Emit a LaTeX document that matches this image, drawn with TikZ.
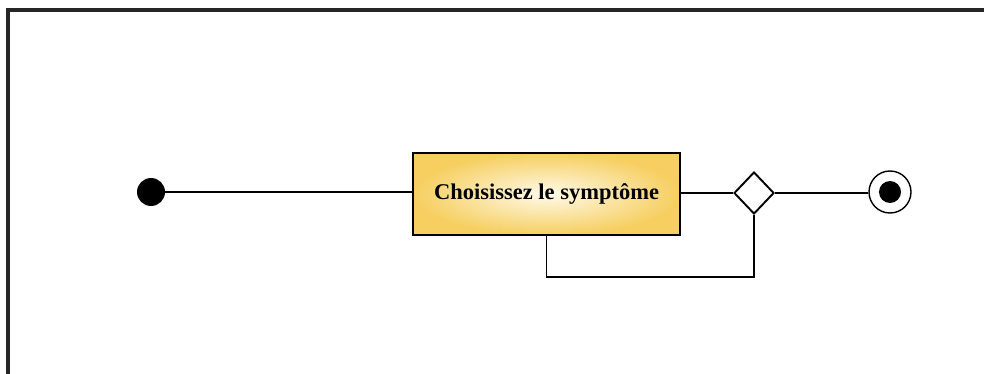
\documentclass[tikz,border=0pt]{standalone}
\usepackage{fontspec}
\setmainfont{Liberation Serif}
\usetikzlibrary{shapes.geometric}
\definecolor{actgold}{RGB}{246,207,96}
\definecolor{actcream}{RGB}{255,250,234}
\tikzset{
  flow/.style={line width=1.8pt, draw=black},
  action/.style={draw=black, line width=2.6pt, minimum width=267pt, minimum height=82pt,
    inner color=actcream, outer color=actgold,
    font=\fontsize{22.5}{26}\selectfont\bfseries, inner sep=0pt},
  startdot/.style={circle, fill=black, minimum size=28pt, inner sep=0pt},
  enddot/.style={circle, draw=black, line width=1.4pt, fill=white, minimum size=42pt, inner sep=0pt},
  endcore/.style={circle, fill=black, minimum size=22pt, inner sep=0pt},
  decision/.style={diamond, draw=black, line width=1.9pt, fill=white, minimum width=40pt, minimum height=42pt, inner sep=0pt, aspect=0.95}
}
\begin{document}
\begin{tikzpicture}[x=1pt,y=-1pt]
  \useasboundingbox (0,0) rectangle (984,374);
  % frame (only its top and left sides fall inside the page)
  \draw[line width=4pt, draw=black!85] (7.5,400) -- (7.5,10) -- (1000,10);
  % nodes
  \node[startdot] (start) at (151,192) {};
  \node[action] (choose) at (546.5,194) {Choisissez le symptôme};
  \node[decision] (dec) at (754,193) {};
  \node[enddot] (final) at (890,192) {};
  \node[endcore] at (final.center) {};
  \coordinate (loopA) at (choose.south |- 0,277);
  \coordinate (loopB) at (dec.south |- 0,277);
  % connectors
  \draw[flow] (start.east) -- (choose.west |- start.east);
  \draw[flow] (choose.east |- dec.west) -- (dec.west);
  \draw[flow] (dec.east) -- (final.west |- dec.east);
  \draw[flow] (choose.south) -- (loopA) -- (loopB) -- (dec.south);
\end{tikzpicture}
\end{document}
